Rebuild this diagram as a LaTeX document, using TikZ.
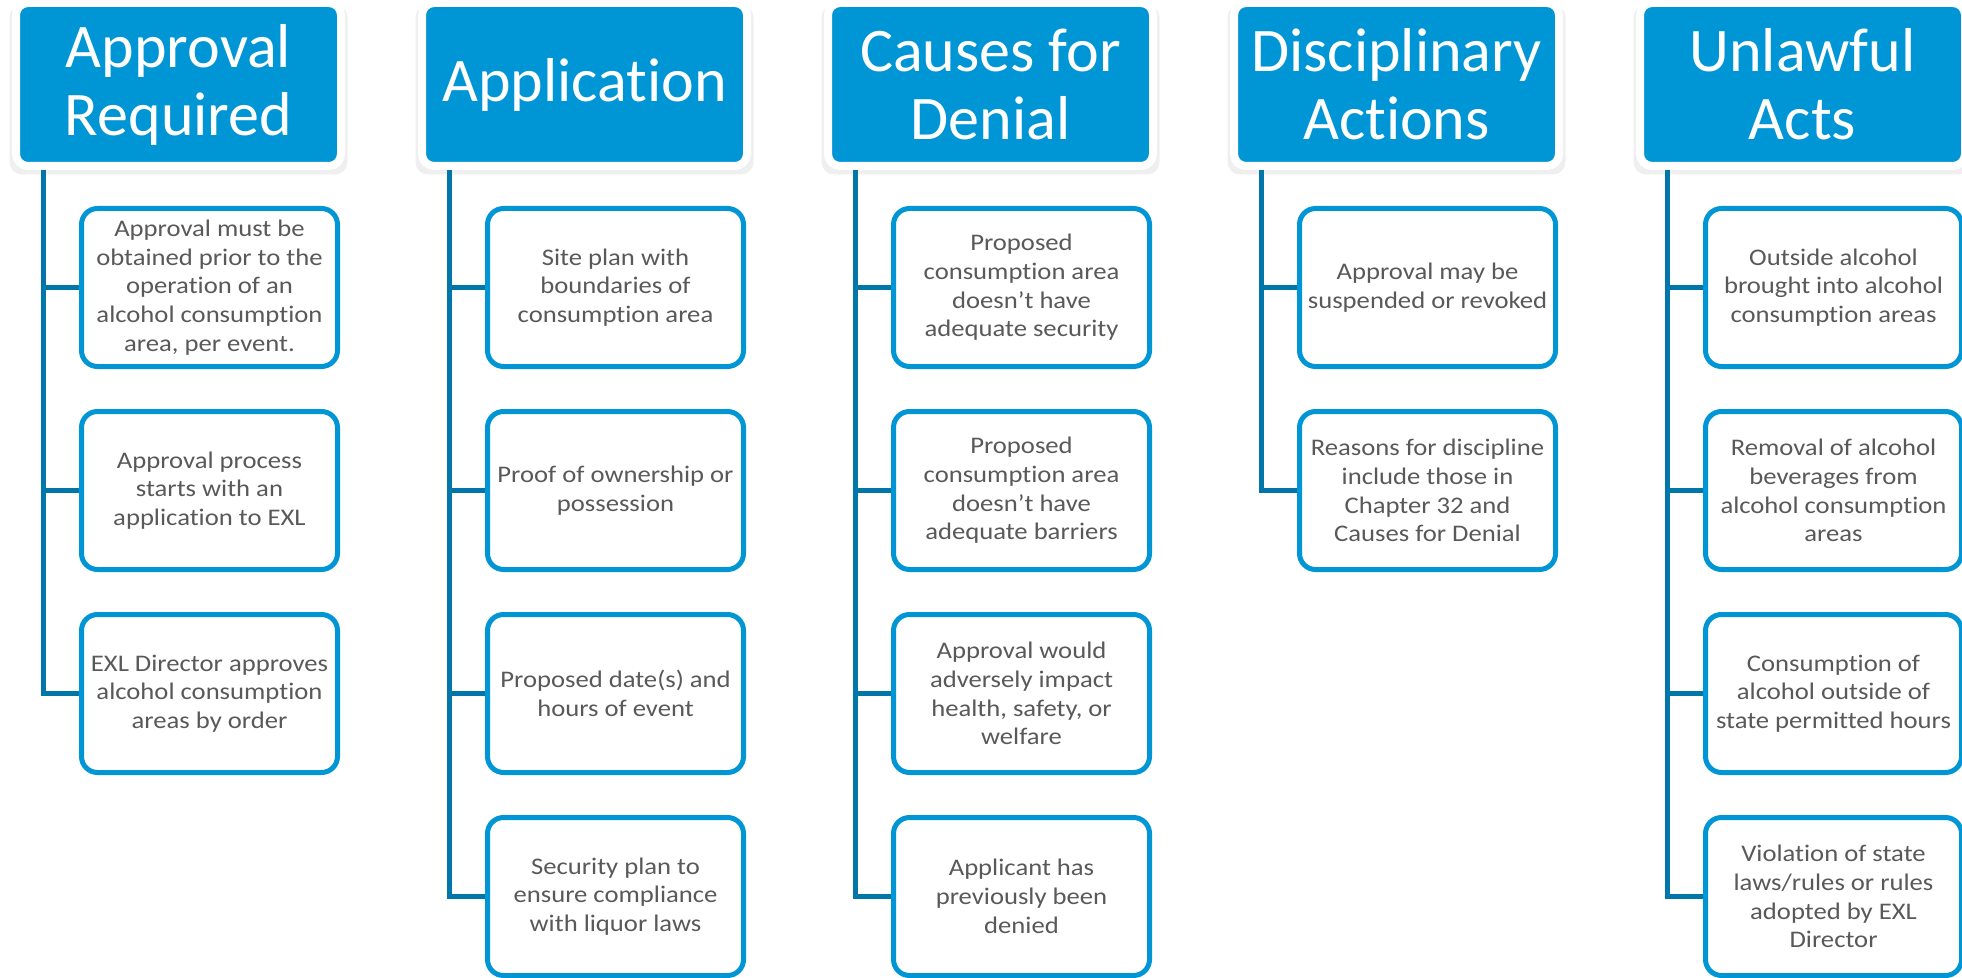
\documentclass[tikz,border=0pt]{standalone}
\usepackage{tikz}
\usetikzlibrary{shadows}
\usepackage{xcolor}
\usepackage{fontspec}
\setmainfont{Carlito}[Ligatures=NoCommon]
\newfontfamily\bodyfont{Carlito}[Ligatures=NoCommon, FakeStretch=1.12]

\definecolor{headblue}{HTML}{0096D6}
\definecolor{linkblue}{HTML}{0077A8}
\definecolor{bodygray}{HTML}{595959}

\begin{document}
\begin{tikzpicture}[x=0.5pt, y=-0.5pt,
    head/.style={rectangle, rounded corners=6pt, fill=headblue, draw=white, line width=4pt, minimum width=162.5pt, minimum height=81.5pt, inner sep=0pt, align=center, text=white, font=\fontsize{31}{34}\selectfont, drop shadow={shadow xshift=0pt, shadow yshift=-2.5pt, shadow scale=1.04, opacity=0.13}},
    item/.style={rectangle, rounded corners=8pt, fill=white, draw=headblue, line width=2.5pt, minimum width=128pt, minimum height=79pt, inner sep=0pt, align=center, text=bodygray, font=\bodyfont\fontsize{11.9}{14.35}\selectfont},
    link/.style={draw=linkblue, line width=2.5pt}]

      \useasboundingbox (0, 0) rectangle (1962, 978);
      \clip (0, 0) rectangle (1962, 978);

      \node[head] (h1) at (178.5, 84.5) {Approval\\Required};
      \node[head] (h2) at (584.5, 84.5) {Application};
      \node[head] (h3) at (990.5, 84.5) {Causes for\\Denial};
      \node[head] (h4) at (1396.5, 84.5) {Disciplinary\\Actions};
      \node[head] (h5) at (1802.5, 84.5) {Unlawful\\Acts};

      \node[item] (c11) at (209.5, 287.5) {Approval must be\\obtained prior to the\\operation of an\\alcohol consumption\\area, per event.};
      \node[item] (c12) at (209.5, 490.5) {Approval process\\starts with an\\application to EXL};
      \node[item] (c13) at (209.5, 693.5) {EXL Director approves\\alcohol consumption\\areas by order};

      \node[item] (c21) at (615.5, 287.5) {Site plan with\\boundaries of\\consumption area};
      \node[item] (c22) at (615.5, 490.5) {Proof of ownership or\\possession};
      \node[item] (c23) at (615.5, 693.5) {Proposed date(s) and\\hours of event};
      \node[item] (c24) at (615.5, 896.5) {Security plan to\\ensure compliance\\with liquor laws};

      \node[item] (c31) at (1021.5, 287.5) {Proposed\\consumption area\\doesn’t have\\adequate security};
      \node[item] (c32) at (1021.5, 490.5) {Proposed\\consumption area\\doesn’t have\\adequate barriers};
      \node[item] (c33) at (1021.5, 693.5) {Approval would\\adversely impact\\health, safety, or\\welfare};
      \node[item] (c34) at (1021.5, 896.5) {Applicant has\\previously been\\denied};

      \node[item] (c41) at (1427.5, 287.5) {Approval may be\\suspended or revoked};
      \node[item] (c42) at (1427.5, 490.5) {Reasons for discipline\\include those in\\Chapter 32 and\\Causes for Denial};

      \node[item] (c51) at (1833.5, 287.5) {Outside alcohol\\brought into alcohol\\consumption areas};
      \node[item] (c52) at (1833.5, 490.5) {Removal of alcohol\\beverages from\\alcohol consumption\\areas};
      \node[item] (c53) at (1833.5, 693.5) {Consumption of\\alcohol outside of\\state permitted hours};
      \node[item] (c54) at (1833.5, 896.5) {Violation of state\\laws/rules or rules\\adopted by EXL\\Director};

      \draw[link] ([xshift=15.75pt]h1.south west) |- (c11.west);
      \draw[link] ([xshift=15.75pt]h1.south west) |- (c12.west);
      \draw[link] ([xshift=15.75pt]h1.south west) |- (c13.west);

      \draw[link] ([xshift=15.75pt]h2.south west) |- (c21.west);
      \draw[link] ([xshift=15.75pt]h2.south west) |- (c22.west);
      \draw[link] ([xshift=15.75pt]h2.south west) |- (c23.west);
      \draw[link] ([xshift=15.75pt]h2.south west) |- (c24.west);

      \draw[link] ([xshift=15.75pt]h3.south west) |- (c31.west);
      \draw[link] ([xshift=15.75pt]h3.south west) |- (c32.west);
      \draw[link] ([xshift=15.75pt]h3.south west) |- (c33.west);
      \draw[link] ([xshift=15.75pt]h3.south west) |- (c34.west);

      \draw[link] ([xshift=15.75pt]h4.south west) |- (c41.west);
      \draw[link] ([xshift=15.75pt]h4.south west) |- (c42.west);

      \draw[link] ([xshift=15.75pt]h5.south west) |- (c51.west);
      \draw[link] ([xshift=15.75pt]h5.south west) |- (c52.west);
      \draw[link] ([xshift=15.75pt]h5.south west) |- (c53.west);
      \draw[link] ([xshift=15.75pt]h5.south west) |- (c54.west);

    \end{tikzpicture}
\end{document}
